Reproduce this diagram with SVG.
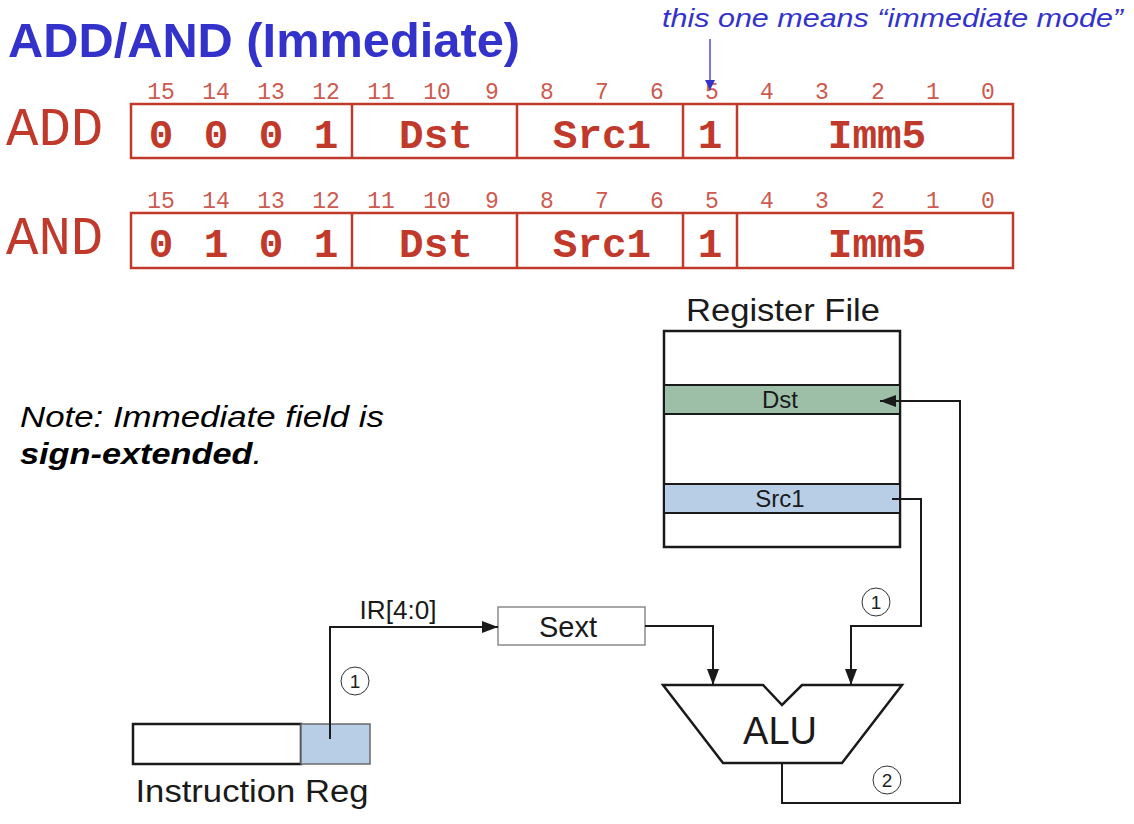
<svg xmlns="http://www.w3.org/2000/svg" width="1134" height="824" viewBox="0 0 1134 824">
<defs>
<style>
.sans{font-family:"Liberation Sans",Arial,Helvetica,sans-serif}
.mono{font-family:"Liberation Mono","Courier New",monospace}
.fld{fill:none;stroke:#c0392b;stroke-width:2.5}
.bitn{font-family:"Liberation Mono","Courier New",monospace;font-size:23px;fill:#cd5a50;text-anchor:middle}
.val{font-family:"Liberation Mono","Courier New",monospace;font-size:41px;font-weight:bold;fill:#c0392b;text-anchor:middle}
.op{font-family:"Liberation Mono","Courier New",monospace;font-size:54px;fill:#c0392b}
.wire{fill:none;stroke:#1a1a1a;stroke-width:2}
.blk{fill:none;stroke:#1a1a1a;stroke-width:2.5}
.circ{fill:#fff;stroke:#333;stroke-width:1}
.cnum{font-family:"Liberation Sans",Arial,sans-serif;font-size:19px;fill:#222;text-anchor:middle}
.lbl{font-family:"Liberation Sans",Arial,sans-serif;fill:#1a1a1a;text-anchor:middle}
</style>
<marker id="ah" viewBox="0 0 16 12" refX="16" refY="6" markerWidth="16" markerHeight="12" markerUnits="userSpaceOnUse" orient="auto">
<path d="M0,0 L16,6 L0,12 Z" fill="#1a1a1a"/>
</marker>
<marker id="ahb" viewBox="0 0 10 10" refX="10" refY="5" markerWidth="10" markerHeight="10" markerUnits="userSpaceOnUse" orient="auto">
<path d="M0,0 L10,5 L0,10 Z" fill="#3333cc"/>
</marker>
</defs>
<rect width="1134" height="824" fill="#fff"/>

<g id="title">
<text class="sans" x="8" y="57" font-size="49" font-weight="bold" fill="#3333cc" textLength="512" lengthAdjust="spacingAndGlyphs">ADD/AND (Immediate)</text>
</g>

<g id="annotation">
<text class="sans" x="662" y="27" font-size="26" font-style="italic" fill="#3333cc" textLength="461" lengthAdjust="spacingAndGlyphs">this one means “immediate mode”</text>
</g>

<g id="add-format">
<text class="op" x="6" y="145">ADD</text>
<g>
<text class="bitn" x="161" y="99">15</text><text class="bitn" x="216" y="99">14</text><text class="bitn" x="271" y="99">13</text><text class="bitn" x="326" y="99">12</text>
<text class="bitn" x="381" y="99">11</text><text class="bitn" x="437" y="99">10</text><text class="bitn" x="492" y="99">9</text><text class="bitn" x="547" y="99">8</text>
<text class="bitn" x="602" y="99">7</text><text class="bitn" x="657" y="99">6</text><text class="bitn" x="712" y="99">5</text><text class="bitn" x="767" y="99">4</text>
<text class="bitn" x="822" y="99">3</text><text class="bitn" x="878" y="99">2</text><text class="bitn" x="933" y="99">1</text><text class="bitn" x="988" y="99">0</text>
</g>
<rect class="fld" x="131" y="104" width="882" height="54"/>
<path class="fld" d="M352,104V158M517,104V158M683,104V158M737,104V158"/>
<text class="val" x="161" y="148">0</text><text class="val" x="216" y="148">0</text><text class="val" x="271" y="148">0</text><text class="val" x="326" y="148">1</text>
<text class="val" x="436" y="148">Dst</text>
<text class="val" x="602" y="148">Src1</text>
<text class="val" x="710" y="148">1</text>
<text class="val" x="877" y="148">Imm5</text>
</g>

<g id="and-format">
<text class="op" x="6" y="254">AND</text>
<g>
<text class="bitn" x="161" y="208">15</text><text class="bitn" x="216" y="208">14</text><text class="bitn" x="271" y="208">13</text><text class="bitn" x="326" y="208">12</text>
<text class="bitn" x="381" y="208">11</text><text class="bitn" x="437" y="208">10</text><text class="bitn" x="492" y="208">9</text><text class="bitn" x="547" y="208">8</text>
<text class="bitn" x="602" y="208">7</text><text class="bitn" x="657" y="208">6</text><text class="bitn" x="712" y="208">5</text><text class="bitn" x="767" y="208">4</text>
<text class="bitn" x="822" y="208">3</text><text class="bitn" x="878" y="208">2</text><text class="bitn" x="933" y="208">1</text><text class="bitn" x="988" y="208">0</text>
</g>
<rect class="fld" x="131" y="213" width="882" height="55"/>
<path class="fld" d="M352,213V268M517,213V268M683,213V268M737,213V268"/>
<text class="val" x="161" y="257">0</text><text class="val" x="216" y="257">1</text><text class="val" x="271" y="257">0</text><text class="val" x="326" y="257">1</text>
<text class="val" x="436" y="257">Dst</text>
<text class="val" x="602" y="257">Src1</text>
<text class="val" x="710" y="257">1</text>
<text class="val" x="877" y="257">Imm5</text>
</g>

<g id="annotation-arrow">
<line x1="710" y1="39" x2="710" y2="90" stroke="#3333cc" stroke-width="1.3" marker-end="url(#ahb)"/>
</g>

<g id="note">
<text class="sans" x="20" y="427" font-size="30" font-style="italic" fill="#000" textLength="364" lengthAdjust="spacingAndGlyphs">Note: Immediate field is</text>
<text class="sans" x="20" y="464" font-size="30" font-style="italic" fill="#000" textLength="242" lengthAdjust="spacingAndGlyphs"><tspan font-weight="bold">sign-extended</tspan>.</text>
</g>

<g id="register-file">
<text class="lbl" x="783" y="321" font-size="31" textLength="194" lengthAdjust="spacingAndGlyphs">Register File</text>
<rect x="664" y="331" width="236" height="216" fill="#fff" stroke="#1a1a1a" stroke-width="2.5"/>
<rect x="664" y="385" width="236" height="29" fill="#9dbfa8" stroke="#1a1a1a" stroke-width="2"/>
<text class="lbl" x="780" y="408" font-size="24">Dst</text>
<rect x="664" y="484" width="236" height="29" fill="#b8cee6" stroke="#1a1a1a" stroke-width="2"/>
<text class="lbl" x="780" y="507" font-size="24">Src1</text>
</g>

<g id="sext">
<rect x="498" y="607" width="147" height="38" fill="#fff" stroke="#8a8a8a" stroke-width="1.5"/>
<text class="lbl" x="568" y="637" font-size="29">Sext</text>
</g>

<g id="alu">
<path d="M663,685 L763,685 L782,705 L802,685 L902,685 L842,763 L723,763 Z" fill="#fff" stroke="#1a1a1a" stroke-width="2.5"/>
<text class="lbl" x="780" y="744" font-size="38">ALU</text>
</g>

<g id="instruction-reg">
<rect x="133" y="724" width="168" height="40" fill="#fff" stroke="#1a1a1a" stroke-width="2.5"/>
<rect x="301" y="724" width="69" height="40" fill="#b8cee6" stroke="#6a6a6a" stroke-width="1.5"/>
<text class="lbl" x="252" y="802" font-size="31" textLength="233" lengthAdjust="spacingAndGlyphs">Instruction Reg</text>
</g>

<g id="connectors">
<path class="wire" d="M330,739 V627 H498" marker-end="url(#ah)"/>
<path class="wire" d="M645,626 H713 V685" marker-end="url(#ah)"/>
<path class="wire" d="M892,499 H921 V626 H851 V685" marker-end="url(#ah)"/>
<path class="wire" d="M782,763 V803 H960 V401 H880" marker-end="url(#ah)"/>
<text class="lbl" x="398" y="619" font-size="25" textLength="77" lengthAdjust="spacingAndGlyphs">IR[4:0]</text>
</g>

<g id="step-markers">
<circle class="circ" cx="355" cy="681" r="14"/><text class="cnum" x="355" y="688">1</text>
<circle class="circ" cx="876" cy="602" r="14"/><text class="cnum" x="876" y="609">1</text>
<circle class="circ" cx="887" cy="780" r="14"/><text class="cnum" x="887" y="787">2</text>
</g>
</svg>
